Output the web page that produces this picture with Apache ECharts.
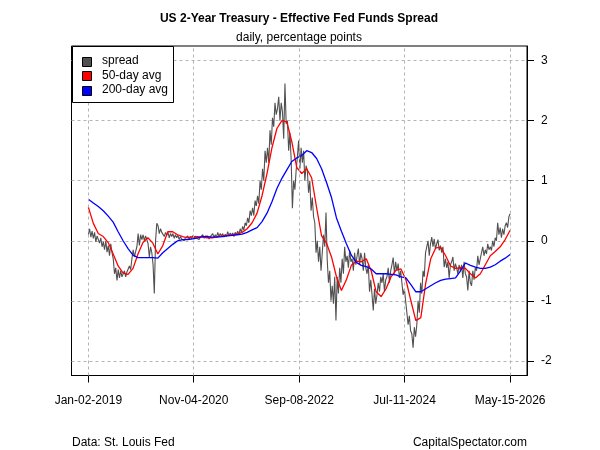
<!DOCTYPE html>
<html>
<head>
<meta charset="utf-8">
<script src="https://cdn.jsdelivr.net/npm/echarts@6/dist/echarts.min.js"></script>
<style>
  html, body { margin: 0; padding: 0; background: #fff; }
  #chart { width: 600px; height: 450px; }
</style>
</head>
<body>
<div id="chart"></div>
<script>
// daily spread, evenly spaced from first to last date
const startDate = '2019-01-02';
const endDate = '2026-05-15';

const spread = [
  0.1, 0.2, 0.06, 0.16, 0.04, 0.14, -0.02, 0.08, 0.09, -0.04, 0.05, -0.1,
  -0.02, -0.15, 0.0, -0.19, -0.08, -0.25, -0.05, -0.2, -0.3, -0.55, -0.45, -0.66,
  -0.48, -0.62, -0.5, -0.6, -0.55, -0.5, -0.6, -0.52, -0.55, -0.42, -0.48, -0.3,
  -0.15, -0.27, -0.18, -0.1, 0.12, -0.08, 0.1, 0.02, 0.1, 0.0, 0.08, 0.02,
  -0.05, -0.27, -0.1, -0.2, -0.4, -0.88, 0.0, 0.29, 0.25, 0.12, 0.2, 0.14,
  0.17, 0.07, 0.14, 0.09, 0.14, 0.05, 0.12, 0.07, 0.12, 0.04, 0.1, 0.05,
  0.09, 0.02, 0.07, 0.03, 0.06, 0.0, 0.05, 0.02, 0.08, 0.02, 0.07, 0.03,
  0.09, 0.03, 0.08, 0.04, 0.07, 0.02, 0.06, 0.04, 0.1, 0.04, 0.08, 0.05,
  0.08, 0.03, 0.07, 0.04, 0.12, 0.05, 0.1, 0.06, 0.14, 0.07, 0.12, 0.08,
  0.12, 0.06, 0.11, 0.07, 0.15, 0.08, 0.13, 0.09, 0.13, 0.07, 0.14, 0.1,
  0.16, 0.1, 0.2, 0.14, 0.24, 0.18, 0.3, 0.25, 0.38, 0.3, 0.5, 0.42,
  0.55, 0.42, 0.67, 0.58, 0.75, 0.62, 1.0, 0.85, 1.2, 1.0, 1.5, 1.3,
  1.55, 1.3, 1.84, 1.6, 2.05, 1.9, 2.3, 2.1, 2.2, 2.4, 2.0, 2.3,
  2.15, 1.7, 2.62, 1.95, 2.0, 1.5, 1.8, 1.35, 0.54, 1.0, 0.85, 1.17,
  1.4, 1.67, 1.2, 1.55, 1.3, 1.5, 1.0, 1.25, 1.17, 0.8, 1.0, 0.5,
  0.72, 0.4, 0.3, -0.2, 0.0, -0.35, -0.1, -0.5, -0.2, 0.1, -0.1, 0.47,
  -0.33, -0.7, -0.5, -1.0, -0.75, -1.05, -0.6, -1.33, -0.6, -0.88, -0.45, -0.7,
  -0.3, -0.55, -0.1, -0.35, -0.25, -0.45, -0.16, -0.35, -0.3, -0.5, -0.2, -0.4,
  -0.25, -0.13, -0.4, -0.2, -0.3, -0.5, -0.2, -0.45, -0.55, -0.4, -0.85, -0.65,
  -0.9, -1.16, -0.8, -1.05, -0.9, -0.7, -0.85, -0.6, -0.7, -0.55, -0.85, -0.65,
  -0.6, -0.45, -0.7, -0.5, -0.4, -0.28, -0.55, -0.35, -0.5, -0.38, -0.62, -0.5,
  -0.7, -0.9, -0.8, -1.0, -1.2, -1.4, -1.25, -1.5, -1.55, -1.78, -1.44, -1.6,
  -1.4, -1.0, -1.2, -0.7, -0.88, -0.5, -0.6, -0.2, -0.1, 0.0, -0.25, -0.05,
  0.06, -0.1, 0.03, -0.14, -0.05, 0.02, -0.16, -0.08, -0.2, -0.1, -0.44, -0.3,
  -0.45, -0.35, -0.62, -0.4, -0.35, -0.27, -0.5, -0.38, -0.45, -0.55, -0.4, -0.5,
  -0.4, -0.62, -0.35, -0.55, -0.6, -0.83, -0.5, -0.7, -0.75, -0.5, -0.65, -0.45,
  -0.5, -0.25, -0.4, -0.3, -0.33, -0.1, -0.25, -0.15, -0.22, -0.05, -0.15, -0.1,
  -0.16, 0.0, -0.1, 0.05, 0.0, 0.3, 0.1, 0.22, 0.05, 0.2, 0.1, 0.25,
  0.3, 0.22, 0.4, 0.45
];

// moving averages, evenly spaced over the same dates
const ma50 = [
  0.56, 0.29, 0.12, 0.07, -0.03, -0.22, -0.42, -0.54, -0.56, -0.46,
  -0.22, -0.03, 0.05, -0.04, -0.22, -0.08, 0.15, 0.15, 0.1, 0.07,
  0.05, 0.07, 0.07, 0.06, 0.05, 0.05, 0.07, 0.08, 0.09, 0.1,
  0.11, 0.14, 0.2, 0.3, 0.46, 0.75, 1.12, 1.55, 1.87, 2.0,
  1.98, 1.65, 1.22, 1.12, 1.2, 1.05, 0.55, 0.08, -0.04, -0.27,
  -0.6, -0.83, -0.65, -0.41, -0.34, -0.35, -0.3, -0.5, -0.85, -0.93,
  -0.8, -0.6, -0.49, -0.47, -0.65, -1.0, -1.33, -1.28, -0.7, -0.3,
  -0.12, -0.11, -0.25, -0.42, -0.46, -0.45, -0.46, -0.55, -0.62, -0.55,
  -0.4, -0.25, -0.18, -0.1, 0.02, 0.175
];

const ma200 = [
  0.69, 0.63, 0.57, 0.5, 0.41, 0.31, 0.15, 0.0, -0.13, -0.24,
  -0.28, -0.28, -0.28, -0.28, -0.29, -0.2, -0.13, -0.06, 0.0, 0.02,
  0.02, 0.03, 0.05, 0.07, 0.07, 0.06, 0.06, 0.07, 0.08, 0.09,
  0.1, 0.11, 0.14, 0.18, 0.22, 0.32, 0.46, 0.65, 0.87, 1.04,
  1.18, 1.32, 1.38, 1.42, 1.5, 1.47, 1.37, 1.2, 0.97, 0.72,
  0.38, 0.16, -0.05, -0.24, -0.36, -0.41, -0.43, -0.47, -0.55, -0.55,
  -0.55, -0.56, -0.57, -0.6, -0.62, -0.73, -0.85, -0.85, -0.8, -0.75,
  -0.7, -0.66, -0.64, -0.63, -0.62, -0.5, -0.37, -0.41, -0.44, -0.46,
  -0.46, -0.44, -0.4, -0.34, -0.29, -0.23
];

const seriesNames = ['spread', '50-day avg', '200-day avg'];
const seriesColors = ['#505050', '#ff0000', '#0000ff'];

const tickDates = ['2019-01-02', '2020-11-04', '2022-09-08', '2024-07-11', '2026-05-15'];
const tickLabels = ['Jan-02-2019', 'Nov-04-2020', 'Sep-08-2022', 'Jul-11-2024', 'May-15-2026'];
const yTicks = [-2, -1, 0, 1, 2, 3];

const FONT = 'Liberation Sans, Arial, sans-serif';
const GRID_COLOR = '#b4b4b4';

function toDay(s) {
  const p = s.split('-').map(Number);
  return Date.UTC(p[0], p[1] - 1, p[2]) / 86400000;
}

const d0 = toDay(startDate);
const d1 = toDay(endDate);
const span = d1 - d0;

function spaced(values) {
  const step = span / (values.length - 1);
  return values.map((v, i) => [d0 + i * step, v]);
}

const tickDays = tickDates.map(toDay);

// boxed legend in the top-left corner of the plot, drawn as graphics
const legendBox = { left: 72.5, top: 46.5, width: 101, height: 56, rowGap: 14.5 };
const legendGraphics = [{
  type: 'rect', z: 100,
  shape: { x: legendBox.left, y: legendBox.top, width: legendBox.width, height: legendBox.height },
  style: { fill: '#fff', stroke: '#000', lineWidth: 1 }
}];
seriesNames.forEach((name, i) => {
  const cy = legendBox.top + 14.5 + i * legendBox.rowGap;
  legendGraphics.push({
    type: 'rect', z: 101,
    shape: { x: legendBox.left + 10, y: Math.round(cy - 4.5) + 0.5, width: 9, height: 9 },
    style: { fill: seriesColors[i], stroke: '#000', lineWidth: 1 }
  });
  legendGraphics.push({
    type: 'text', z: 101, x: legendBox.left + 29.5, y: cy,
    style: { text: name, fill: '#000', font: '12px ' + FONT, textVerticalAlign: 'middle', verticalAlign: 'middle' }
  });
});

const chart = echarts.init(document.getElementById('chart'), null, { renderer: 'canvas' });

chart.setOption({
  animation: false,
  backgroundColor: '#fff',
  title: [
    {
      text: 'US 2-Year Treasury - Effective Fed Funds Spread',
      left: 299, top: 13, textAlign: 'center', padding: 0,
      textStyle: { fontFamily: FONT, fontSize: 12, fontWeight: 'bold', color: '#000' }
    },
    {
      text: 'daily, percentage points',
      left: 299, top: 32, textAlign: 'center', padding: 0,
      textStyle: { fontFamily: FONT, fontSize: 12, fontWeight: 'normal', color: '#000' }
    },
    {
      text: 'Data: St. Louis Fed',
      left: 72, top: 437, padding: 0,
      textStyle: { fontFamily: FONT, fontSize: 12, fontWeight: 'normal', color: '#000' }
    },
    {
      text: 'CapitalSpectator.com',
      right: 73, top: 437, padding: 0,
      textStyle: { fontFamily: FONT, fontSize: 12, fontWeight: 'normal', color: '#000' }
    }
  ],
  legend: { show: false, data: seriesNames },
  graphic: legendGraphics,
  grid: {
    left: 71.5, right: 73, top: 46, bottom: 74.5,
    show: true, borderColor: '#000', borderWidth: 1
  },
  xAxis: {
    type: 'value',
    min: d0 - 0.04 * span,
    max: d1 + 0.04 * span,
    axisLine: { show: true, onZero: false, lineStyle: { color: '#000', width: 1 } },
    axisTick: { show: true, length: 7, customValues: tickDays, lineStyle: { color: '#000' } },
    axisLabel: {
      customValues: tickDays, margin: 19,
      fontFamily: FONT, fontSize: 12, color: '#000',
      formatter: function (v) {
        let best = 0;
        tickDays.forEach((d, i) => { if (Math.abs(d - v) < Math.abs(tickDays[best] - v)) best = i; });
        return tickLabels[best];
      }
    },
    splitLine: { show: false }
  },
  yAxis: {
    type: 'value',
    position: 'right',
    min: -2.245, max: 3.245,
    axisLine: { show: true, onZero: false, lineStyle: { color: '#000', width: 1 } },
    axisTick: { show: true, length: 7, customValues: yTicks, lineStyle: { color: '#000' } },
    axisLabel: {
      customValues: yTicks, margin: 14,
      fontFamily: FONT, fontSize: 12, color: '#000'
    },
    splitLine: { show: true, lineStyle: { color: GRID_COLOR, type: [3, 3], width: 1 } }
  },
  series: [
    {
      name: 'grid', type: 'line', data: [], silent: true, symbol: 'none',
      markLine: {
        silent: true, symbol: 'none', label: { show: false },
        lineStyle: { color: GRID_COLOR, type: [3, 3], width: 1 },
        data: tickDays.map(d => ({ xAxis: d }))
      }
    },
    {
      name: seriesNames[0], type: 'line', data: spaced(spread),
      symbol: 'none', color: seriesColors[0],
      lineStyle: { color: seriesColors[0], width: 1.1 }
    },
    {
      name: seriesNames[1], type: 'line', data: spaced(ma50),
      symbol: 'none', color: seriesColors[1],
      lineStyle: { color: seriesColors[1], width: 1.3 }
    },
    {
      name: seriesNames[2], type: 'line', data: spaced(ma200),
      symbol: 'none', color: seriesColors[2],
      lineStyle: { color: seriesColors[2], width: 1.3 }
    }
  ]
});
</script>
</body>
</html>
